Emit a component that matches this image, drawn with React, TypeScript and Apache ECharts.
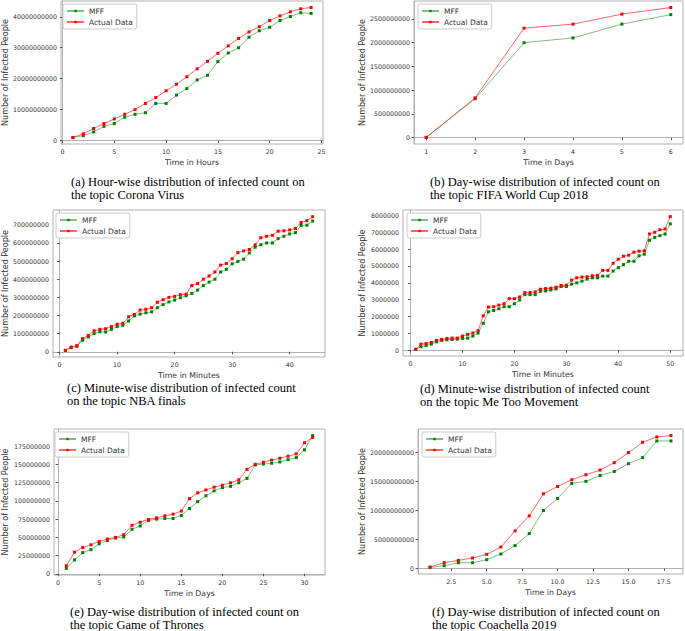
import React, { useEffect, useRef } from "react";
import * as echarts from "echarts";

// (a) Corona Virus – hours
const coronaMFF = [1.0e9, 1.6e9, 2.8e9, 4.6e9, 5.5e9, 7.55e9, 8.5e9, 9.0e9, 12.0e9, 12.0e9, 14.7e9, 16.8e9, 19.6e9, 21.1e9, 25.5e9, 28.3e9, 30.0e9, 33.4e9, 35.5e9, 36.6e9, 38.8e9, 40.1e9, 41.3e9, 41.1e9];
const coronaActual = [1.0e9, 2.2e9, 3.9e9, 5.5e9, 7.0e9, 8.5e9, 10.0e9, 12.0e9, 13.9e9, 16.1e9, 18.2e9, 20.6e9, 23.2e9, 25.6e9, 28.2e9, 30.6e9, 33.0e9, 35.1e9, 36.8e9, 38.8e9, 40.3e9, 41.6e9, 42.6e9, 43.0e9];
// (b) FIFA World Cup 2018 – days
const fifaMFF = [1.0e7, 0.82e9, 2.0e9, 2.1e9, 2.39e9, 2.59e9];
const fifaActual = [0.5e7, 0.84e9, 2.305e9, 2.39e9, 2.6e9, 2.74e9];
// (c) NBA finals – minutes
const nbaMFF = [0.08e8, 0.22e8, 0.3e8, 0.64e8, 0.82e8, 1.0e8, 1.1e8, 1.09e8, 1.24e8, 1.39e8, 1.46e8, 1.7e8, 1.98e8, 2.08e8, 2.15e8, 2.2e8, 2.43e8, 2.6e8, 2.75e8, 2.85e8, 2.98e8, 3.09e8, 3.22e8, 3.4e8, 3.65e8, 3.84e8, 4.0e8, 4.4e8, 4.55e8, 4.85e8, 4.98e8, 5.11e8, 5.45e8, 5.77e8, 5.9e8, 6.0e8, 6.0e8, 6.24e8, 6.37e8, 6.5e8, 6.57e8, 6.97e8, 6.98e8, 7.21e8];
const nbaActual = [0.08e8, 0.26e8, 0.34e8, 0.73e8, 0.9e8, 1.16e8, 1.24e8, 1.27e8, 1.39e8, 1.52e8, 1.57e8, 1.93e8, 2.06e8, 2.3e8, 2.34e8, 2.43e8, 2.73e8, 2.87e8, 3.0e8, 3.05e8, 3.15e8, 3.18e8, 3.65e8, 3.76e8, 4.0e8, 4.18e8, 4.4e8, 4.78e8, 4.87e8, 5.13e8, 5.47e8, 5.56e8, 5.64e8, 5.9e8, 6.29e8, 6.37e8, 6.42e8, 6.65e8, 6.67e8, 6.72e8, 6.8e8, 7.13e8, 7.23e8, 7.45e8];
// (d) Me Too Movement – minutes
const metooMFF = [0.05e6, 0.2e6, 0.28e6, 0.36e6, 0.5e6, 0.58e6, 0.62e6, 0.64e6, 0.66e6, 0.7e6, 0.72e6, 0.84e6, 1.02e6, 1.6e6, 2.28e6, 2.36e6, 2.46e6, 2.58e6, 2.58e6, 2.76e6, 2.98e6, 3.3e6, 3.3e6, 3.3e6, 3.5e6, 3.52e6, 3.58e6, 3.64e6, 3.78e6, 3.78e6, 3.92e6, 4.0e6, 4.1e6, 4.22e6, 4.3e6, 4.3e6, 4.4e6, 4.4e6, 4.7e6, 4.9e6, 5.08e6, 5.28e6, 5.28e6, 5.6e6, 5.7e6, 6.53e6, 6.7e6, 6.8e6, 6.9e6, 7.5e6];
const metooActual = [0.05e6, 0.36e6, 0.4e6, 0.46e6, 0.58e6, 0.64e6, 0.7e6, 0.72e6, 0.72e6, 0.84e6, 0.94e6, 1.02e6, 1.16e6, 2.04e6, 2.56e6, 2.58e6, 2.68e6, 2.76e6, 3.06e6, 3.06e6, 3.16e6, 3.42e6, 3.42e6, 3.46e6, 3.62e6, 3.66e6, 3.68e6, 3.74e6, 3.84e6, 3.86e6, 4.16e6, 4.3e6, 4.34e6, 4.36e6, 4.42e6, 4.44e6, 4.74e6, 4.74e6, 5.16e6, 5.4e6, 5.58e6, 5.64e6, 5.82e6, 5.88e6, 5.9e6, 6.9e6, 7.0e6, 7.15e6, 7.2e6, 7.93e6];
// (e) Game of Thrones – days
const gotMFF = [7.4e6, 19e6, 29e6, 33e6, 41e6, 45.7e6, 49e6, 50.4e6, 61e6, 65.6e6, 73e6, 74.9e6, 75.8e6, 75.8e6, 80e6, 89.6e6, 98.9e6, 107e6, 113.7e6, 118.3e6, 120e6, 124.8e6, 130.8e6, 149.3e6, 150.6e6, 151.6e6, 153.4e6, 156.6e6, 159.4e6, 170e6, 189.5e6];
const gotActual = [11e6, 29.6e6, 36e6, 39.7e6, 44.4e6, 47.6e6, 49.9e6, 53.6e6, 66.5e6, 70.7e6, 74.4e6, 76.7e6, 79.5e6, 81.8e6, 86e6, 103e6, 111e6, 115e6, 118.8e6, 121.5e6, 124.8e6, 128.9e6, 143.2e6, 150.2e6, 153e6, 156e6, 158.5e6, 161.3e6, 164.5e6, 179.7e6, 187e6];
// (f) Coachella 2019 – days
const coachMFF = [0.17e9, 0.46e9, 0.98e9, 0.98e9, 1.5e9, 2.48e9, 3.92e9, 6.0e9, 9.97e9, 12.05e9, 14.64e9, 14.99e9, 16.0e9, 16.7e9, 18.04e9, 19.08e9, 21.96e9, 21.96e9];
const coachActual = [0.23e9, 0.98e9, 1.38e9, 1.79e9, 2.42e9, 3.69e9, 6.46e9, 9.05e9, 12.85e9, 14.12e9, 15.27e9, 16.14e9, 16.94e9, 18.21e9, 19.94e9, 21.73e9, 22.65e9, 22.88e9];

// tick labels
const xTicksA = [0, 5, 10, 15, 20, 25];
const yTicksA = [0, 1e10, 2e10, 3e10, 4e10];
const xTicksB = [1, 2, 3, 4, 5, 6];
const yTicksB = [0, 5e8, 1e9, 1.5e9, 2e9, 2.5e9];
const xTicksC = [0, 10, 20, 30, 40];
const yTicksC = [0, 1e8, 2e8, 3e8, 4e8, 5e8, 6e8, 7e8];
const xTicksD = [0, 10, 20, 30, 40, 50];
const yTicksD = [0, 1e6, 2e6, 3e6, 4e6, 5e6, 6e6, 7e6, 8e6];
const xTicksE = [0, 5, 10, 15, 20, 25, 30];
const yTicksE = [0, 25e6, 50e6, 75e6, 100e6, 125e6, 150e6, 175e6];
const xTicksF = [2.5, 5, 7.5, 10, 12.5, 15, 17.5];
const yTicksF = [0, 5e9, 1e10, 1.5e10, 2e10];

const panels = [
  { mff: coronaMFF, act: coronaActual, xt: xTicksA, yt: yTicksA, xName: "Time in Hours", cap: ["(a) Hour-wise distribution of infected count on", "the topic Corona Virus"] },
  { mff: fifaMFF, act: fifaActual, xt: xTicksB, yt: yTicksB, xName: "Time in Days", cap: ["(b) Day-wise distribution of infected count on", "the topic FIFA World Cup 2018"] },
  { mff: nbaMFF, act: nbaActual, xt: xTicksC, yt: yTicksC, xName: "Time in Minutes", cap: ["(c) Minute-wise distribution of infected count", "on the topic NBA finals"] },
  { mff: metooMFF, act: metooActual, xt: xTicksD, yt: yTicksD, xName: "Time in Minutes", cap: ["(d) Minute-wise distribution of infected count", "on the topic Me Too Movement"] },
  { mff: gotMFF, act: gotActual, xt: xTicksE, yt: yTicksE, xName: "Time in Days", cap: ["(e) Day-wise distribution of infected count on", "the topic Game of Thrones"] },
  { mff: coachMFF, act: coachActual, xt: xTicksF, yt: yTicksF, xName: "Time in Days", cap: ["(f) Day-wise distribution of infected count on", "the topic Coachella 2019"] },
];

// layout (pixels)
const layout = [
  { left: 59, top: 1, width: 264, height: 143, yGap: 52, capX: 71, capY: 182 },
  { left: 414, top: 1, width: 269, height: 143, yGap: 48, capX: 430, capY: 182 },
  { left: 52, top: 210, width: 273, height: 147, yGap: 44, capX: 67, capY: 388 },
  { left: 403, top: 210, width: 280, height: 146, yGap: 37, capX: 420, capY: 389 },
  { left: 51, top: 429, width: 274, height: 146, yGap: 45, capX: 70, capY: 612 },
  { left: 418, top: 429, width: 265, height: 145, yGap: 52, capX: 432, capY: 612 },
];

const AX = "#b0b0b0";
const TXT = "#333";

function buildOption() {
  const grid: any[] = [];
  const xAxis: any[] = [];
  const yAxis: any[] = [];
  const series: any[] = [];
  const legend: any[] = [];
  const graphic: any[] = [];
  panels.forEach((p, i) => {
    const L = layout[i];
    grid.push({ left: L.left, top: L.top, width: L.width, height: L.height, show: true, borderColor: AX, borderWidth: 1, containLabel: false });
    const n = p.mff.length;
    const xm = (n - 1) * 0.05;
    const all = p.mff.concat(p.act);
    const ymin = Math.min(...all), ymax = Math.max(...all);
    const ym = (ymax - ymin) * 0.05;
    const isF = i === 5;
    xAxis.push({
      type: "value", gridIndex: i, min: 1 - xm, max: n + xm,
      name: p.xName, nameLocation: "middle", nameGap: 14,
      nameTextStyle: { fontSize: 7.8, color: TXT, fontFamily: "DejaVu Sans" },
      axisLine: { show: true, lineStyle: { color: AX } },
      axisTick: { show: true, length: 2.5, customValues: p.xt, lineStyle: { color: "#555" } },
      axisLabel: { customValues: p.xt, fontSize: 6.3, color: TXT, margin: 4, fontFamily: "DejaVu Sans", formatter: (v: number) => (isF ? v.toFixed(1) : String(Math.round(v))) },
      splitLine: { show: false },
    });
    yAxis.push({
      type: "value", gridIndex: i, min: ymin - ym, max: ymax + ym,
      name: "Number of Infected People", nameLocation: "middle", nameGap: L.yGap, nameRotate: 90,
      nameTextStyle: { fontSize: 8, color: TXT, fontFamily: "DejaVu Sans" },
      axisLine: { show: true, lineStyle: { color: AX } },
      axisTick: { show: true, length: 2.5, customValues: p.yt, lineStyle: { color: "#555" } },
      axisLabel: { customValues: p.yt, fontSize: 6.3, color: TXT, margin: 4, fontFamily: "DejaVu Sans", formatter: (v: number) => String(Math.round(v)) },
      splitLine: { show: false },
    });
    const mk = (name: string, arr: number[], line: string, dot: string) => ({
      type: "line", name, xAxisIndex: i, yAxisIndex: i,
      data: arr.map((v, k) => [k + 1, v]),
      symbol: "rect", symbolSize: 3, showSymbol: true,
      lineStyle: { color: line, width: 1 }, itemStyle: { color: dot },
      emphasis: { disabled: true },
    });
    series.push(mk("MFF", p.mff, "rgba(0,128,0,0.5)", "#008000"));
    series.push(mk("Actual Data", p.act, "rgba(255,0,0,0.6)", "#ff0000"));
    legend.push({
      data: ["MFF", "Actual Data"], orient: "vertical",
      left: L.left + 4, top: L.top + 3,
      itemWidth: 17, itemHeight: 3, itemGap: 3,
      padding: [3, 4, 3, 3],
      borderColor: "#ccc", borderWidth: 1, borderRadius: 2, backgroundColor: "#fff",
      textStyle: { fontSize: 7.5, lineHeight: 8, color: TXT, fontFamily: "DejaVu Sans" },
      selectedMode: false,
    });
    p.cap.forEach((t, k) => {
      graphic.push({
        type: "text", x: L.capX, y: L.capY + k * 13,
        style: { text: t, font: '12.5px "Liberation Serif"', fill: "#000", verticalAlign: "middle", textVerticalAlign: "middle" },
      });
    });
  });
  return { animation: false, backgroundColor: "#fff", grid, xAxis, yAxis, series, legend, graphic };
}

export default function App() {
  const ref = useRef<HTMLDivElement>(null);
  useEffect(() => {
    if (!ref.current) return;
    const chart = echarts.init(ref.current, null, { renderer: "svg" });
    chart.setOption(buildOption() as any);
    return () => chart.dispose();
  }, []);
  return <div ref={ref} style={{ position: "fixed", left: 0, top: 0, width: 685, height: 631, background: "#fff" }} />;
}
